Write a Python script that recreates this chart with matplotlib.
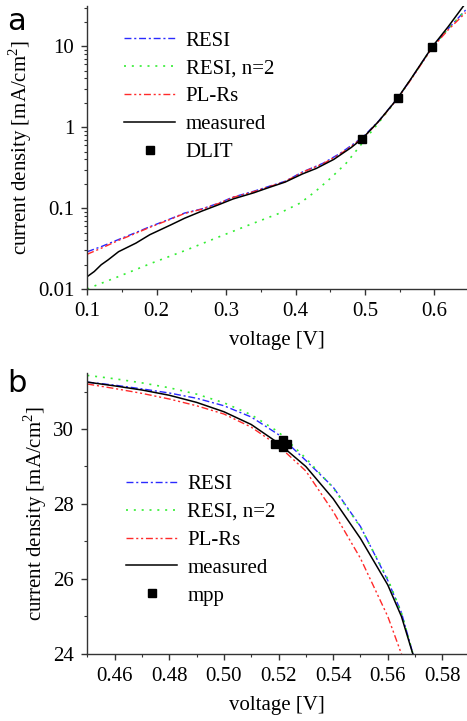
import numpy as np
import matplotlib
matplotlib.use('Agg')
import matplotlib.pyplot as plt
from matplotlib.ticker import FixedLocator, MultipleLocator, LogLocator, NullFormatter

plt.rcParams['font.family'] = 'Liberation Serif'
plt.rcParams['mathtext.fontset'] = 'custom'
plt.rcParams['mathtext.rm'] = 'Liberation Serif'

# ---- panel a: dark IV on log scale
v_meas_a = [0.10, 0.11, 0.12, 0.13, 0.145, 0.17, 0.19, 0.22, 0.24, 0.265, 0.29, 0.31, 0.34,
            0.36, 0.385, 0.41, 0.43, 0.455, 0.48, 0.496, 0.52, 0.546, 0.566, 0.597, 0.62, 0.642]
j_meas_a = [0.0143, 0.0165, 0.020, 0.023, 0.029, 0.037, 0.047, 0.062, 0.075, 0.092, 0.111, 0.13,
            0.155, 0.178, 0.21, 0.265, 0.31, 0.40, 0.56, 0.72, 1.19, 2.22, 3.93, 9.87, 17.5, 31.5]

v_resi_a = [0.10, 0.12, 0.145, 0.17, 0.19, 0.22, 0.24, 0.265, 0.29, 0.31, 0.34, 0.36, 0.385,
            0.41, 0.44, 0.465, 0.486, 0.50, 0.52, 0.546, 0.566, 0.597, 0.62, 0.645]
j_resi_a = [0.029, 0.0335, 0.041, 0.050, 0.059, 0.074, 0.087, 0.098, 0.116, 0.137, 0.162, 0.184,
            0.215, 0.28, 0.36, 0.48, 0.645, 0.80, 1.2, 2.22, 3.9, 9.8, 16.5, 28]
j_plrs_a = [0.027, 0.032, 0.040, 0.049, 0.058, 0.073, 0.086, 0.097, 0.115, 0.136, 0.160, 0.182,
            0.213, 0.278, 0.355, 0.47, 0.63, 0.78, 1.18, 2.2, 3.85, 9.6, 16, 26]

v_n2_a = [0.10, 0.111, 0.145, 0.193, 0.241, 0.289, 0.337, 0.376, 0.407, 0.429, 0.451, 0.473,
          0.491, 0.508, 0.518, 0.546, 0.566, 0.597, 0.62, 0.645]
j_n2_a = [0.0100, 0.011, 0.0143, 0.021, 0.0300, 0.044, 0.064, 0.086, 0.116, 0.162, 0.237, 0.36,
          0.56, 0.857, 1.09, 2.2, 3.9, 9.8, 16.5, 28]

v_dlit = [0.496, 0.548, 0.597]
j_dlit = [0.72, 2.3, 9.87]

# ---- panel b: illuminated IV near mpp
v_b = [0.45, 0.46, 0.47, 0.48, 0.49, 0.50, 0.51, 0.52, 0.53, 0.54, 0.55, 0.56, 0.565, 0.57]
j_meas_b = [31.25, 31.15, 31.04, 30.9, 30.71, 30.46, 30.12, 29.62, 29.0, 28.14, 27.08, 25.84, 25.0, 23.8]
j_resi_b = [31.25, 31.17, 31.07, 30.96, 30.82, 30.62, 30.32, 29.85, 29.16, 28.45, 27.4, 25.96, 25.1, 23.8]
j_n2_b = [31.43, 31.34, 31.23, 31.1, 30.93, 30.7, 30.38, 29.92, 29.22, 28.43, 27.38, 26.0, 25.1, 23.8]
j_plrs_b = [31.2, 31.08, 30.95, 30.8, 30.62, 30.4, 30.05, 29.55, 28.88, 27.8, 26.55, 25.0, 24.0, 22.9]

v_mpp = [0.5188, 0.5218, 0.5218, 0.5231]
j_mpp = [29.61, 29.70, 29.52, 29.61]

blue = '#2a2aff'
green = '#33ee33'
red = '#ff2a2a'
resi_dash = (0, (5, 2, 1.5, 2))
n2_dash = (0, (1.2, 3.5))
plrs_dash = (0, (5, 2, 1.5, 2, 1.5, 2))
fs = 15

fig = plt.figure(figsize=(4.67, 7.21), dpi=100)
ax1 = fig.add_axes([0.187, 0.599, 0.813, 0.392])
ax2 = fig.add_axes([0.187, 0.093, 0.813, 0.390])


def style(ax):
    for s in ['top', 'right']:
        ax.spines[s].set_visible(False)
    for s in ['left', 'bottom']:
        ax.spines[s].set_linewidth(1.0)
        ax.spines[s].set_color('#333333')
    ax.tick_params(which='major', direction='out', length=4.5, width=1, labelsize=fs,
                   color='#333333', pad=5)
    ax.tick_params(which='minor', direction='out', length=2.5, width=0.8, color='#333333')
    ax.set_xlabel('voltage [V]', fontsize=fs, labelpad=7)
    ax.set_ylabel('current density [mA/cm$^2$]', fontsize=fs, labelpad=3)


leg_kw = dict(loc='upper left', frameon=False, fontsize=fs, handlelength=2.45,
              handletextpad=0.5, labelspacing=0.4, numpoints=1, borderaxespad=0)

# panel a
ax1.plot(v_resi_a, j_resi_a, color=blue, lw=1.0, linestyle=resi_dash, label='RESI')
ax1.plot(v_n2_a, j_n2_a, color=green, lw=1.2, linestyle=n2_dash, label='RESI, n=2')
ax1.plot(v_resi_a, j_plrs_a, color=red, lw=1.0, linestyle=plrs_dash, label='PL-Rs')
ax1.plot(v_meas_a, j_meas_a, color='black', lw=1.1, label='measured')
ax1.plot(v_dlit, j_dlit, 's', color='black', ms=5.5, linestyle='none', label='DLIT')
ax1.set_yscale('log')
ax1.set_xlim(0.1, 0.647)
ax1.set_ylim(0.01, 31)
ax1.yaxis.set_major_locator(FixedLocator([0.01, 0.1, 1, 10]))
ax1.set_yticklabels(['0.01', '0.1', '1', '10'])
ax1.yaxis.set_minor_locator(LogLocator(base=10, subs=np.arange(2, 10)))
ax1.yaxis.set_minor_formatter(NullFormatter())
ax1.xaxis.set_major_locator(MultipleLocator(0.1))
ax1.xaxis.set_minor_locator(MultipleLocator(0.05))
style(ax1)
ax1.legend(bbox_to_anchor=(0.075, 0.943), **leg_kw)

# panel b
ax2.plot(v_b, j_resi_b, color=blue, lw=1.0, linestyle=resi_dash, label='RESI')
ax2.plot(v_b, j_n2_b, color=green, lw=1.2, linestyle=n2_dash, label='RESI, n=2')
ax2.plot(v_b, j_plrs_b, color=red, lw=1.0, linestyle=plrs_dash, label='PL-Rs')
ax2.plot(v_b, j_meas_b, color='black', lw=1.1, label='measured')
ax2.plot(v_mpp, j_mpp, 's', color='black', ms=5.5, linestyle='none', label='mpp')
ax2.set_xlim(0.45, 0.589)
ax2.set_ylim(24, 31.5)
ax2.xaxis.set_major_locator(MultipleLocator(0.02))
ax2.xaxis.set_minor_locator(MultipleLocator(0.01))
ax2.xaxis.set_major_formatter(plt.FormatStrFormatter('%.2f'))
ax2.yaxis.set_major_locator(MultipleLocator(2))
ax2.yaxis.set_minor_locator(MultipleLocator(1))
style(ax2)
ax2.legend(bbox_to_anchor=(0.08, 0.668), **leg_kw)

fig.text(0.015, 0.99, 'a', fontsize=22, family='DejaVu Sans', va='top', ha='left')
fig.text(0.015, 0.488, 'b', fontsize=22, family='DejaVu Sans', va='top', ha='left')

fig.savefig('out.png', dpi=100)
